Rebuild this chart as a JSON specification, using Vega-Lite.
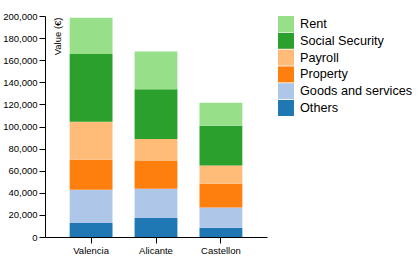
{
  "$schema": "https://vega.github.io/schema/vega-lite/v6.json",
  "autosize": "none",
  "width": 222,
  "height": 221,
  "padding": {"left": 45, "top": 16, "right": 152, "bottom": 24},
  "background": "white",
  "config": {
    "view": {"stroke": null},
    "font": "Liberation Sans",
    "axis": {"labelFont": "Liberation Sans", "titleFont": "Liberation Sans", "labelColor": "#000", "domainColor": "#000", "tickColor": "#000", "grid": false},
    "legend": {"labelFont": "Liberation Sans"}
  },
  "data": {
    "values": [
      {"city": "Valencia", "category": "Others", "k": 1, "value": 12600},
      {"city": "Valencia", "category": "Goods and services", "k": 2, "value": 30200},
      {"city": "Valencia", "category": "Property", "k": 3, "value": 27100},
      {"city": "Valencia", "category": "Payroll", "k": 4, "value": 34300},
      {"city": "Valencia", "category": "Social Security", "k": 5, "value": 61500},
      {"city": "Valencia", "category": "Rent", "k": 6, "value": 32800},
      {"city": "Alicante", "category": "Others", "k": 1, "value": 17200},
      {"city": "Alicante", "category": "Goods and services", "k": 2, "value": 26500},
      {"city": "Alicante", "category": "Property", "k": 3, "value": 25000},
      {"city": "Alicante", "category": "Payroll", "k": 4, "value": 19900},
      {"city": "Alicante", "category": "Social Security", "k": 5, "value": 45100},
      {"city": "Alicante", "category": "Rent", "k": 6, "value": 34100},
      {"city": "Castellon", "category": "Others", "k": 1, "value": 8400},
      {"city": "Castellon", "category": "Goods and services", "k": 2, "value": 18400},
      {"city": "Castellon", "category": "Property", "k": 3, "value": 21400},
      {"city": "Castellon", "category": "Payroll", "k": 4, "value": 16600},
      {"city": "Castellon", "category": "Social Security", "k": 5, "value": 35800},
      {"city": "Castellon", "category": "Rent", "k": 6, "value": 20800}
    ]
  },
  "mark": {"type": "bar"},
  "encoding": {
    "x": {
      "field": "city", "type": "nominal", "sort": ["Valencia", "Alicante", "Castellon"],
      "scale": {"paddingInner": 0.34, "paddingOuter": 0.38},
      "axis": {"title": null, "labelAngle": 0, "labelFontSize": 9.5, "labelPadding": 2, "tickSize": 6, "domainWidth": 1, "tickWidth": 1}
    },
    "y": {
      "field": "value", "type": "quantitative", "stack": "zero",
      "scale": {"domain": [0, 200000], "nice": false},
      "axis": {
        "title": "Value (€)", "titleFontSize": 9.5, "titleFontWeight": "normal", "titleColor": "#000",
        "titleAngle": -90, "titleX": 7, "titleY": 1, "titleAlign": "right", "titleBaseline": "top",
        "values": [0, 20000, 40000, 60000, 80000, 100000, 120000, 140000, 160000, 180000, 200000],
        "format": ",d", "labelFontSize": 9.5, "labelPadding": 2, "tickSize": 6
      }
    },
    "order": {"field": "k", "type": "quantitative", "sort": "ascending"},
    "color": {
      "field": "category", "type": "nominal",
      "scale": {
        "domain": ["Rent", "Social Security", "Payroll", "Property", "Goods and services", "Others"],
        "range": ["#98df8a", "#2ca02c", "#ffbb78", "#ff7f0e", "#aec7e8", "#1f77b4"]
      },
      "legend": {
        "title": null, "orient": "none", "legendX": 233, "legendY": 0, "padding": 0,
        "symbolType": "square", "symbolSize": 256, "symbolStrokeWidth": 0, "symbolOpacity": 1,
        "rowPadding": 0.8, "labelFontSize": 12.7, "labelColor": "#000", "labelOffset": 6, "labelLimit": 200
      }
    }
  }
}
